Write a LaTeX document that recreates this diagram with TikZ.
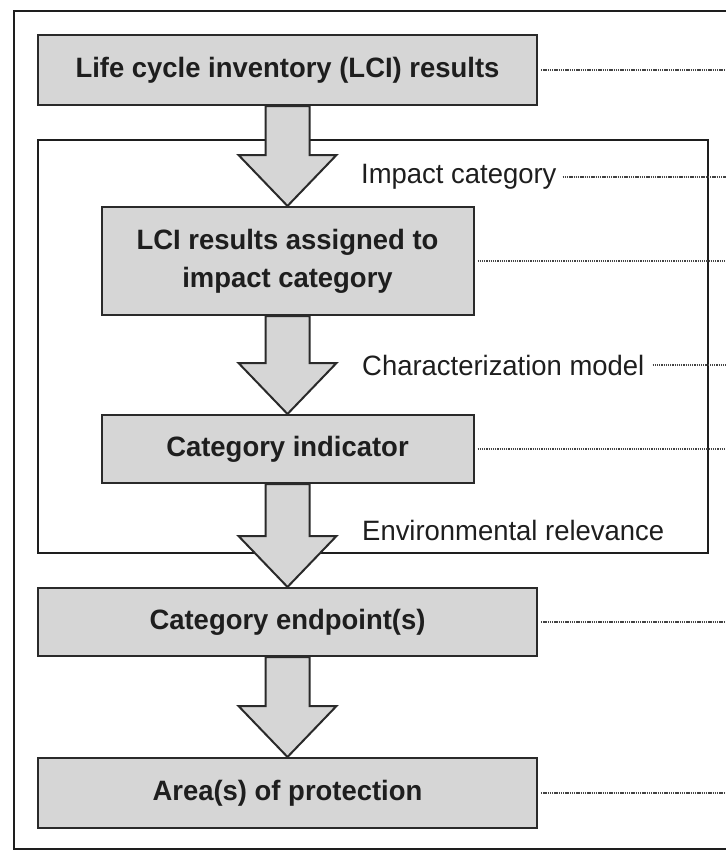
\documentclass[tikz,border=0pt]{standalone}
\usepackage{fontspec}
\setmainfont[FakeStretch=0.98]{Liberation Sans}
\usetikzlibrary{calc,backgrounds}
\definecolor{boxgray}{HTML}{D6D6D6}
\definecolor{edge}{HTML}{2A2A2A}
\definecolor{ink}{HTML}{1E1E1E}
\definecolor{dots}{HTML}{444444}

% block arrow from the bottom of one stage to the top of the next
\newcommand\stagearrow[2]{%
  \path[blockarrow]
    ($(#1.south)+(-22,0)$) --
    ($(#2.north)+(-22,-51)$) --
    ($(#2.north)+(-49,-51)$) --
    (#2.north) --
    ($(#2.north)+(49,-51)$) --
    ($(#2.north)+(22,-51)$) --
    ($(#1.south)+(22,0)$) -- cycle;}

\begin{document}
\begin{tikzpicture}[x=1pt,y=-1pt,
  stage/.style={draw=edge, line width=2pt, fill=boxgray, text=ink,
    font=\fontsize{28}{38}\selectfont\bfseries, align=center, inner sep=0pt},
  note/.style={text=ink, font=\fontsize{28}{32}\selectfont, anchor=west, inner sep=0pt},
  leader/.style={draw=dots, line width=1.3pt, dash pattern=on 1.3pt off 0.9pt},
  blockarrow/.style={draw=edge, line width=2pt, fill=boxgray, line join=miter}]

\useasboundingbox (0,0) rectangle (726,852);
\coordinate (edgeR) at (726,0);

% outer frame
\draw[draw=ink, line width=1.8pt] (726,11) -- (14,11) -- (14,849) -- (726,849);

% stages
\node[stage, minimum width=499pt, minimum height=70pt] (b1) at (287.5,70)
  {Life cycle inventory (LCI) results};
\node[stage, minimum width=372pt, minimum height=108pt] (b2) at (287.5,261)
  {LCI results assigned to\\impact category};
\node[stage, minimum width=372pt, minimum height=68pt] (b3) at (287.5,449)
  {Category indicator};
\node[stage, minimum width=499pt, minimum height=68pt] (b4) at (287.5,622)
  {Category endpoint(s)};
\node[stage, minimum width=499pt, minimum height=70pt] (b5) at (287.5,793)
  {Area(s) of protection};

% side labels
\node[note] (l1) at (361,177) {Impact category};
\node[note] (l2) at (362,365) {Characterization model};
\node[note] (l3) at (362,530) {Environmental relevance};

\begin{pgfonlayer}{background}
  % characterization bracket
  \draw[draw=ink, line width=1.8pt] (38,140) rectangle (708,553);
  \stagearrow{b1}{b2}
  \stagearrow{b2}{b3}
  \stagearrow{b3}{b4}
  \stagearrow{b4}{b5}
\end{pgfonlayer}

% dotted leaders to the right margin
\foreach \n in {b1,b2,b3,b4,b5}
  \draw[leader] ($(\n.east)+(3,0)$) -- (\n.east -| edgeR);
\draw[leader] ($(l1.east)+(6,0)$) -- (l1.east -| edgeR);
\draw[leader] ($(l2.east)+(8,0)$) -- (l2.east -| edgeR);
\end{tikzpicture}
\end{document}
